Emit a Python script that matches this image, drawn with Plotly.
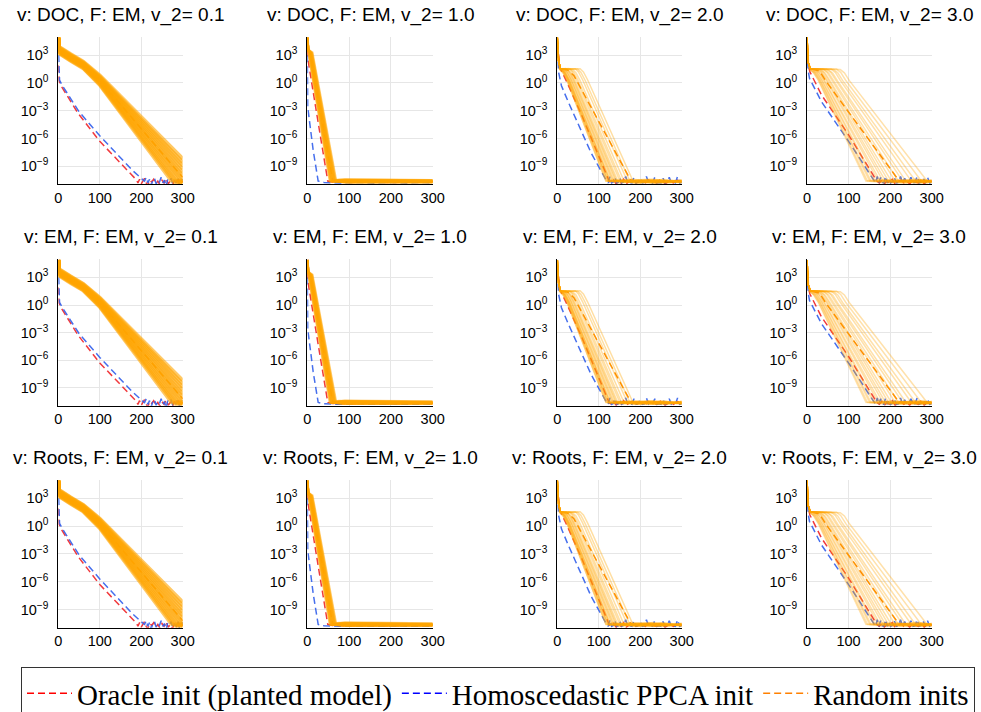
import plotly.graph_objects as go

W, H = 981, 712

ROW_LABELS = ["DOC", "EM", "Roots"]
V2_LABELS = ["0.1", "1.0", "2.0", "3.0"]
X_TICKS = [0, 100, 200, 300]
Y_TICK_EXP = [3, 0, -3, -6, -9]
Y_TICK_TEXT = ["10<sup>3</sup>", "10<sup>0</sup>", "10<sup>\u22123</sup>",
               "10<sup>\u22126</sup>", "10<sup>\u22129</sup>"]
LEGEND_NAMES = ["Oracle init (planted model)", "Homoscedastic PPCA init", "Random inits"]

# ---------------- data: iteration vs log10(error) ----------------
# column 1 : v_2 = 0.1
C1_RED_X = [0, 2, 8, 48, 100, 133, 165, 189,
            192, 196, 200, 204, 208, 212, 216, 220, 225, 230, 235, 240, 245, 250, 255, 260,
            265, 270, 275, 280, 285, 290, 295, 300]
C1_RED_LOG = [1.9, 0.2, -0.4, -3.3, -6.3, -7.9, -9.4, -10.5,
              -10.8, -10.4, -10.9, -10.6, -10.3, -10.8, -11.1, -10.5, -10.7, -10.4, -10.9, -10.6,
              -11.0, -10.5, -10.8, -10.3, -10.9, -10.6, -11.1, -10.5, -10.8, -10.4, -10.9, -10.6]
C1_BLUE_X = [0, 1, 3, 10, 50, 100, 150, 180, 205,
             208, 212, 216, 220, 224, 228, 232, 236, 240, 244, 248, 252, 256, 260, 264, 268,
             272, 276, 280, 284, 288, 292, 296, 300]
C1_BLUE_LOG = [4.2, 1.5, 0.3, -0.3, -3.1, -5.7, -8.1, -9.5, -10.5,
               -10.6, -10.2, -10.8, -10.4, -11.1, -10.5, -10.3, -10.9, -10.5, -10.7, -10.2, -10.8,
               -10.5, -11.2, -10.4, -10.6, -10.3, -10.9, -10.5, -10.8, -10.2, -11.0, -10.6, -10.4]
C1_ORANGE_X = [
    [0, 2, 30, 60, 100, 272, 285, 300],
    [0, 2, 30, 60, 100, 277, 290, 300],
    [0, 2, 30, 60, 100, 283, 300],
    [0, 2, 30, 60, 100, 289, 300],
    [0, 2, 30, 60, 100, 295, 300],
    [0, 2, 30, 60, 100, 300],
    [0, 2, 30, 60, 100, 300],
    [0, 2, 30, 60, 100, 300],
    [0, 2, 30, 60, 100, 300],
    [0, 2, 30, 60, 100, 300],
    [0, 2, 30, 60, 100, 300],
    [0, 2, 30, 60, 100, 300],
]
C1_ORANGE_LOG = [
    [4.9, 3.2, 2.4, 1.6, -0.2, -10.5, -10.8, -10.6],
    [4.9, 3.26, 2.46, 1.66, -0.11, -10.5, -10.7, -10.8],
    [4.9, 3.33, 2.53, 1.73, -0.02, -10.5, -10.75],
    [4.9, 3.39, 2.59, 1.79, 0.07, -10.5, -10.6],
    [4.9, 3.45, 2.65, 1.85, 0.16, -10.5, -10.7],
    [4.9, 3.52, 2.72, 1.92, 0.25, -10.39],
    [4.9, 3.58, 2.78, 1.98, 0.35, -10.01],
    [4.9, 3.65, 2.85, 2.05, 0.44, -9.66],
    [4.9, 3.71, 2.91, 2.11, 0.53, -9.29],
    [4.9, 3.77, 2.97, 2.17, 0.62, -8.92],
    [4.9, 3.84, 3.04, 2.24, 0.71, -8.57],
    [4.9, 3.9, 3.1, 2.3, 0.8, -8.2],
]
C1_DASH_X = [0, 2, 30, 60, 100, 300]
C1_DASH_LOG = [4.9, 3.55, 2.75, 1.95, 0.3, -10.2]

# column 2 : v_2 = 1.0
C2_RED_X = [0, 2, 25, 49, 60, 100, 150, 200, 250, 300]
C2_RED_LOG = [3.6, 2.4, -4.0, -10.6, -10.7, -10.75, -10.7, -10.75, -10.7, -10.7]
C2_BLUE_X = [0, 1, 14, 26, 40, 80, 120, 160, 200, 240, 280, 300]
C2_BLUE_LOG = [3.0, -2.6, -7.25, -10.6, -10.75, -10.8, -10.75, -10.8, -10.75, -10.8, -10.75, -10.8]
C2_ORANGE_X = [
    [0, 2, 3, 54, 80, 300],
    [0, 2, 3.8, 55.4, 90, 300],
    [0, 2, 4.6, 56.7, 75, 300],
    [0, 2, 5.5, 58.1, 95, 300],
    [0, 2, 6.3, 59.5, 85, 300],
    [0, 2, 7.1, 60.8, 100, 300],
    [0, 2, 7.9, 62.2, 80, 300],
    [0, 2, 8.7, 63.5, 90, 300],
    [0, 2, 9.5, 64.9, 85, 300],
    [0, 2, 10.4, 66.3, 95, 300],
    [0, 2, 11.2, 67.6, 90, 300],
    [0, 2, 12, 69, 100, 300],
]
C2_ORANGE_LOG = [
    [4.9, 3.5, 3.2, -10.6, -10.5, -10.6],
    [4.9, 3.5, 3.25, -10.6, -10.7, -10.7],
    [4.9, 3.5, 3.2, -10.6, -10.45, -10.55],
    [4.9, 3.55, 3.3, -10.6, -10.7, -10.65],
    [4.9, 3.5, 3.2, -10.6, -10.5, -10.6],
    [4.9, 3.6, 3.3, -10.6, -10.75, -10.75],
    [4.9, 3.5, 3.25, -10.6, -10.5, -10.6],
    [4.9, 3.55, 3.2, -10.6, -10.4, -10.5],
    [4.9, 3.5, 3.3, -10.6, -10.7, -10.7],
    [4.9, 3.6, 3.25, -10.6, -10.55, -10.6],
    [4.9, 3.5, 3.2, -10.6, -10.7, -10.65],
    [4.9, 3.6, 3.3, -10.6, -10.5, -10.55],
]
C2_DASH_X = [0, 2, 7, 61, 300]
C2_DASH_LOG = [4.9, 3.5, 3.2, -10.6, -10.65]

# column 3 : v_2 = 2.0
C3_RED_X = [0, 3, 6, 22, 60, 125,
            130, 136, 142, 148, 154, 160, 166, 172, 180, 190, 200, 210, 220, 230, 240, 250,
            260, 270, 280, 290, 300]
C3_RED_LOG = [4.3, 2.5, 1.7, 0.2, -3.6, -10.6,
              -10.8, -10.5, -10.9, -10.6, -10.8, -10.4, -10.9, -10.7, -10.5, -10.8, -10.6, -10.9,
              -10.5, -10.7, -10.8, -10.4, -10.9, -10.6, -10.8, -10.5, -10.7]
C3_BLUE_X = [0, 3, 10, 26, 82, 103, 119,
             123, 127, 131, 135, 139, 143, 147, 151, 155,
             160, 165, 170, 175, 180, 185, 190, 195, 200, 205, 210, 215, 220, 225, 230, 235,
             240, 245, 250, 255, 260, 265, 270, 275, 280, 285, 290, 295, 300]
C3_BLUE_LOG = [3.5, 1.2, -0.3, -2.0, -7.6, -9.4, -10.6,
               -10.8, -10.1, -10.8, -10.7, -10.2, -10.8, -10.75, -10.3, -10.8,
               -10.7, -10.1, -10.8, -10.75, -10.8, -10.2, -10.8, -10.7, -10.3, -10.8,
               -10.75, -10.1, -10.8, -10.7, -10.8, -10.2, -10.8, -10.75, -10.8, -10.3,
               -10.8, -10.7, -10.2, -10.8, -10.75, -10.8, -10.1, -10.8, -10.75]
C3_ORANGE_X = [
    [0, 3, 5, 13, 23, 117, 135, 190, 300],
    [0, 3, 6, 14, 24, 118, 150, 220, 300],
    [0, 3, 7, 15, 25, 121, 160, 240, 300],
    [0, 3, 8, 16, 26, 122, 170, 230, 300],
    [0, 3, 8, 9, 17, 27, 123, 180, 260, 300],
    [0, 3, 8, 10, 18, 28, 126, 190, 250, 300],
    [0, 3, 8, 11, 19, 29, 127, 175, 235, 300],
    [0, 3, 8, 12, 20, 30, 128.5, 185, 245, 300],
    [0, 3, 8, 14, 22, 32, 132, 195, 270, 300],
    [0, 3, 8, 16, 24, 34, 134.6, 200, 255, 300],
    [0, 3, 8, 18, 26, 36, 137, 210, 265, 300],
    [0, 3, 8, 20, 28, 38, 140.6, 215, 275, 300],
    [0, 3, 8, 22, 30, 40, 143, 220, 280, 300],
    [0, 3, 8, 25, 33, 43, 146, 225, 285, 300],
    [0, 3, 8, 28, 36, 46, 151, 235, 290, 300],
    [0, 3, 8, 32, 40, 50, 155, 240, 300],
    [0, 3, 8, 37, 45, 55, 161, 230, 300],
    [0, 3, 8, 43, 51, 61, 169, 250, 300],
    [0, 3, 8, 49, 57, 67, 175, 260, 300],
    [0, 3, 8, 55, 63, 73, 182.5, 270, 300],
]
C3_ORANGE_LOG = [
    [4.9, 2.4, 1.5, 1.15, 0.3, -10.6, -10.4, -10.8, -10.6],
    [4.9, 2.4, 1.45, 1.1, 0.25, -10.6, -10.8, -10.5, -10.7],
    [4.9, 2.4, 1.55, 1.2, 0.35, -10.6, -10.5, -10.8, -10.6],
    [4.9, 2.4, 1.5, 1.15, 0.3, -10.6, -10.7, -10.4, -10.7],
    [4.9, 2.4, 1.5, 1.45, 1.1, 0.25, -10.6, -10.4, -10.7, -10.5],
    [4.9, 2.4, 1.5, 1.55, 1.2, 0.35, -10.6, -10.8, -10.5, -10.8],
    [4.9, 2.4, 1.5, 1.5, 1.15, 0.3, -10.6, -10.5, -10.8, -10.5],
    [4.9, 2.4, 1.5, 1.45, 1.1, 0.25, -10.6, -10.7, -10.5, -10.7],
    [4.9, 2.4, 1.5, 1.55, 1.2, 0.35, -10.6, -10.5, -10.8, -10.6],
    [4.9, 2.4, 1.5, 1.5, 1.15, 0.3, -10.6, -10.8, -10.4, -10.7],
    [4.9, 2.4, 1.5, 1.45, 1.1, 0.25, -10.6, -10.5, -10.7, -10.5],
    [4.9, 2.4, 1.5, 1.55, 1.2, 0.35, -10.6, -10.7, -10.5, -10.8],
    [4.9, 2.4, 1.5, 1.5, 1.15, 0.3, -10.6, -10.4, -10.7, -10.6],
    [4.9, 2.4, 1.5, 1.45, 1.1, 0.25, -10.6, -10.8, -10.5, -10.7],
    [4.9, 2.4, 1.5, 1.55, 1.2, 0.35, -10.6, -10.5, -10.7, -10.5],
    [4.9, 2.4, 1.5, 1.5, 1.15, 0.3, -10.6, -10.7, -10.6],
    [4.9, 2.4, 1.5, 1.45, 1.1, 0.25, -10.6, -10.5, -10.7],
    [4.9, 2.4, 1.5, 1.55, 1.2, 0.35, -10.6, -10.8, -10.6],
    [4.9, 2.4, 1.5, 1.5, 1.15, 0.3, -10.6, -10.5, -10.7],
    [4.9, 2.4, 1.5, 1.55, 1.2, 0.35, -10.6, -10.7, -10.5],
]
C3_DASH_X = [0, 3, 8, 25, 40, 178, 300]
C3_DASH_LOG = [4.9, 2.4, 1.5, 1.4, 0.8, -10.6, -10.65]

# column 4 : v_2 = 3.0
C4_RED_X = [0, 3, 7, 35, 100, 168,
            174, 180, 186, 192, 198, 205, 212, 219, 226, 233, 240, 247, 254, 261, 268, 275,
            282, 289, 296, 300]
C4_RED_LOG = [4.0, 2.0, 1.2, -1.3, -5.6, -10.6,
              -10.8, -10.5, -10.9, -10.6, -10.8, -10.4, -10.9, -10.7, -10.5, -10.8, -10.6, -10.9,
              -10.5, -10.7, -10.8, -10.4, -10.9, -10.6, -10.8, -10.6]
C4_BLUE_X = [0, 3, 6, 35, 103, 161,
             165, 169, 173, 177, 181, 185, 189, 193, 197, 201, 205,
             210, 215, 220, 225, 230, 235, 240, 245, 250, 255, 260, 265, 270, 275, 280, 285,
             290, 295, 300]
C4_BLUE_LOG = [3.5, 1.3, 0.5, -2.04, -6.5, -10.6,
               -10.8, -10.1, -10.8, -10.2, -10.75, -10.8, -10.1, -10.8, -10.3, -10.8, -10.7,
               -10.2, -10.8, -10.75, -10.1, -10.8, -10.3, -10.8, -10.7, -10.2, -10.8, -10.75,
               -10.1, -10.8, -10.7, -10.3, -10.8, -10.2, -10.8, -10.75]
C4_ORANGE_X = [
    [0, 3, 5, 15, 27, 142, 175, 230, 300],
    [0, 3, 7, 17, 29, 145.5, 190, 250, 300],
    [0, 3, 8, 9, 19, 31, 150.6, 200, 260, 300],
    [0, 3, 8, 11, 21, 33, 154, 205, 265, 300],
    [0, 3, 8, 13, 23, 35, 160, 210, 270, 300],
    [0, 3, 8, 15, 25, 37, 164, 215, 275, 300],
    [0, 3, 8, 18, 28, 40, 171, 220, 280, 300],
    [0, 3, 8, 21, 31, 43, 176, 225, 285, 300],
    [0, 3, 8, 24, 34, 46, 183, 235, 290, 300],
    [0, 3, 8, 27, 37, 49, 189, 240, 280, 300],
    [0, 3, 8, 30, 40, 52, 196, 245, 285, 300],
    [0, 3, 8, 34, 44, 56, 203, 255, 290, 300],
    [0, 3, 8, 38, 48, 60, 212, 260, 300],
    [0, 3, 8, 42, 52, 64, 220, 270, 300],
    [0, 3, 8, 47, 57, 69, 230, 275, 300],
    [0, 3, 8, 52, 62, 74, 238, 285, 300],
    [0, 3, 8, 58, 68, 80, 251, 300],
    [0, 3, 8, 64, 74, 86, 261, 300],
    [0, 3, 8, 71, 81, 93, 275, 300],
    [0, 3, 8, 80, 90, 102, 289, 300],
]
C4_ORANGE_LOG = [
    [4.9, 2.2, 1.5, 1.15, 0.3, -10.6, -10.4, -10.8, -10.6],
    [4.9, 2.2, 1.45, 1.1, 0.25, -10.6, -10.8, -10.5, -10.7],
    [4.9, 2.2, 1.55, 1.5, 1.15, 0.3, -10.6, -10.5, -10.8, -10.6],
    [4.9, 2.2, 1.55, 1.4, 1.05, 0.2, -10.6, -10.7, -10.4, -10.7],
    [4.9, 2.2, 1.55, 1.5, 1.15, 0.3, -10.6, -10.4, -10.7, -10.5],
    [4.9, 2.2, 1.55, 1.45, 1.1, 0.25, -10.6, -10.8, -10.5, -10.8],
    [4.9, 2.2, 1.55, 1.5, 1.15, 0.3, -10.6, -10.5, -10.8, -10.5],
    [4.9, 2.2, 1.55, 1.4, 1.05, 0.2, -10.6, -10.7, -10.5, -10.7],
    [4.9, 2.2, 1.55, 1.5, 1.15, 0.3, -10.6, -10.5, -10.8, -10.6],
    [4.9, 2.2, 1.55, 1.45, 1.1, 0.25, -10.6, -10.8, -10.4, -10.7],
    [4.9, 2.2, 1.55, 1.5, 1.15, 0.3, -10.6, -10.5, -10.7, -10.5],
    [4.9, 2.2, 1.55, 1.4, 1.05, 0.2, -10.6, -10.7, -10.5, -10.8],
    [4.9, 2.2, 1.55, 1.5, 1.15, 0.3, -10.6, -10.4, -10.6],
    [4.9, 2.2, 1.55, 1.45, 1.1, 0.25, -10.6, -10.8, -10.7],
    [4.9, 2.2, 1.55, 1.5, 1.15, 0.3, -10.6, -10.5, -10.6],
    [4.9, 2.2, 1.55, 1.4, 1.05, 0.2, -10.6, -10.7, -10.5],
    [4.9, 2.2, 1.55, 1.5, 1.15, 0.3, -10.6, -10.7],
    [4.9, 2.2, 1.55, 1.45, 1.1, 0.25, -10.6, -10.6],
    [4.9, 2.2, 1.55, 1.5, 1.15, 0.3, -10.6, -10.5],
    [4.9, 2.2, 1.55, 1.45, 1.1, 0.25, -10.6, -10.7],
]
C4_DASH_X = [0, 3, 8, 30, 47, 222, 300]
C4_DASH_LOG = [4.9, 2.2, 1.55, 1.3, 0.1, -10.6, -10.65]

COLUMNS = [
    (C1_RED_X, C1_RED_LOG, C1_BLUE_X, C1_BLUE_LOG, C1_ORANGE_X, C1_ORANGE_LOG, C1_DASH_X, C1_DASH_LOG),
    (C2_RED_X, C2_RED_LOG, C2_BLUE_X, C2_BLUE_LOG, C2_ORANGE_X, C2_ORANGE_LOG, C2_DASH_X, C2_DASH_LOG),
    (C3_RED_X, C3_RED_LOG, C3_BLUE_X, C3_BLUE_LOG, C3_ORANGE_X, C3_ORANGE_LOG, C3_DASH_X, C3_DASH_LOG),
    (C4_RED_X, C4_RED_LOG, C4_BLUE_X, C4_BLUE_LOG, C4_ORANGE_X, C4_ORANGE_LOG, C4_DASH_X, C4_DASH_LOG),
]

# ---------------- styling / layout ----------------
COL_X_PX = [(58.3, 182.7), (307.3, 432.7), (557.3, 681.7), (807.0, 931.7)]
ROW_Y_PX = [(37.0, 184.3), (259.3, 405.7), (480.0, 627.7)]
ORANGE_STYLE = [(4.0, 0.6), (2.5, 0.5), (1.5, 0.36), (1.5, 0.33)]
RED = "rgba(240,35,40,0.9)"
BLUE = "rgba(50,95,235,0.9)"
DASH = "7px,4px"
TICK_FONT = dict(family="Liberation Sans", size=14.5, color="black")


def vals(logs):
    return [10 ** v for v in logs]


fig = go.Figure()
layout = dict(width=W, height=H, margin=dict(l=0, r=0, t=0, b=0, autoexpand=False),
              paper_bgcolor="white", plot_bgcolor="white", showlegend=True, annotations=[])

for r in range(3):
    for c in range(4):
        k = r * 4 + c + 1
        sx = "" if k == 1 else str(k)
        xa, ya = "x" + sx, "y" + sx
        rx, ry, bx, by, ox, oy, dx, dy = COLUMNS[c]
        lw, la = ORANGE_STYLE[c]
        fig.add_trace(go.Scatter(x=rx, y=vals(ry), mode="lines", xaxis=xa, yaxis=ya,
                                 line=dict(color=RED, width=1.5, dash=DASH), showlegend=False,
                                 hoverinfo="skip"))
        fig.add_trace(go.Scatter(x=bx, y=vals(by), mode="lines", xaxis=xa, yaxis=ya,
                                 line=dict(color=BLUE, width=1.5, dash=DASH), showlegend=False,
                                 hoverinfo="skip"))
        fig.add_trace(go.Scatter(x=dx, y=vals(dy), mode="lines", xaxis=xa, yaxis=ya,
                                 line=dict(color="rgb(255,140,0)", width=1.5, dash=DASH),
                                 showlegend=False, hoverinfo="skip"))
        for lx, ly in zip(ox, oy):
            fig.add_trace(go.Scatter(x=lx, y=vals(ly), mode="lines", xaxis=xa, yaxis=ya,
                                     line=dict(color=f"rgba(255,165,0,{la})", width=lw),
                                     showlegend=False, hoverinfo="skip"))
        x0, x1 = COL_X_PX[c]
        yt, yb = ROW_Y_PX[r]
        layout["xaxis" + sx] = dict(
            domain=[x0 / W, x1 / W], anchor=ya, range=[0, 300], tickvals=X_TICKS,
            showgrid=True, gridcolor="#e6e6e6", gridwidth=1, zeroline=False,
            showline=True, linecolor="black", linewidth=1, ticks="", tickfont=TICK_FONT,
            fixedrange=True)
        layout["yaxis" + sx] = dict(
            domain=[1 - yb / H, 1 - yt / H], anchor=xa, type="log", range=[-10.95, 4.97],
            tickvals=vals(Y_TICK_EXP), ticktext=Y_TICK_TEXT,
            showgrid=True, gridcolor="#e6e6e6", gridwidth=1, zeroline=False,
            showline=True, linecolor="black", linewidth=1, ticks="", tickfont=TICK_FONT,
            ticklabelstandoff=6, fixedrange=True)
        layout["annotations"].append(dict(
            text=f"v: {ROW_LABELS[r]}, F: EM, v_2= {V2_LABELS[c]}",
            x=(x0 + x1) / 2 / W, y=1 - (yt - 22) / H, xref="paper", yref="paper",
            xanchor="center", yanchor="middle", showarrow=False,
            font=dict(family="Liberation Sans", size=19, color="black")))

# legend entries
for name, col in zip(LEGEND_NAMES, ["#ff0000", "#0000ff", "#ff8000"]):
    fig.add_trace(go.Scatter(x=[None], y=[None], mode="lines", name=name,
                             line=dict(color=col, width=1.5, dash=DASH), showlegend=True))

layout["legend"] = dict(orientation="h", x=21 / W, xanchor="left", y=1 - 667 / H, yanchor="top",
                        font=dict(family="Liberation Serif", size=29, color="black"),
                        bordercolor="#333333", borderwidth=1, bgcolor="white",
                        itemwidth=45, traceorder="normal")

fig.update_layout(**layout)
fig.write_html("out.html", config={"displayModeBar": False},
               post_script="document.body.style.margin='0px';")
